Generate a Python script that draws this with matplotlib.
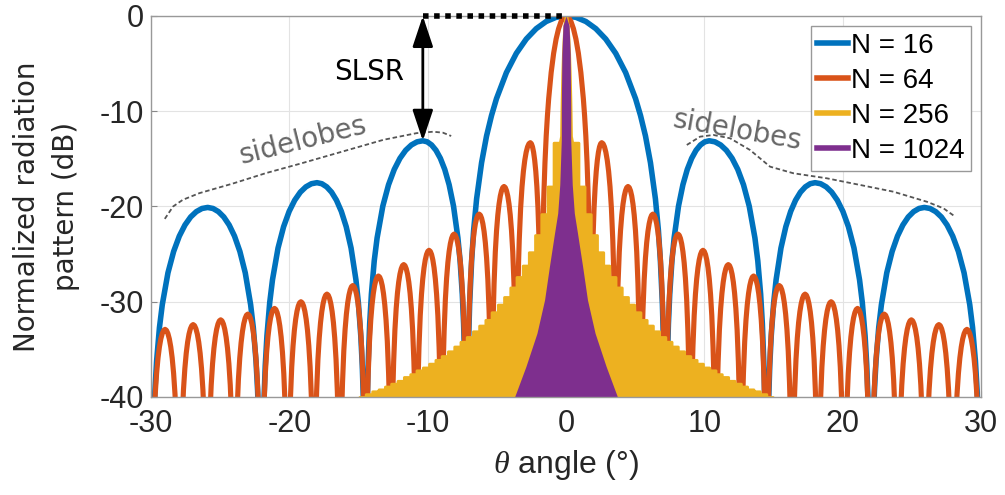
import numpy as np
import matplotlib.pyplot as plt
from matplotlib.lines import Line2D

series_labels = ['N = 16', 'N = 64', 'N = 256', 'N = 1024']
series_colors = ['#0072BD', '#D95319', '#EDB120', '#7E2F8E']
x_ticks = [-30, -20, -10, 0, 10, 20, 30]
y_ticks = [-40, -30, -20, -10, 0]

# N = 16: null angles, sidelobe peak angles and levels (dB)
nulls_16 = [7.18, 14.48, 22.02, 30.0]
peak_angles_16 = [10.35, 18.0, 25.9]
peaks_16 = [-13.1, -17.5, -20.1]

# N = 64
nulls_64 = [1.79, 3.58, 5.38, 7.18, 8.99, 10.81, 12.64, 14.48, 16.34, 18.21,
            20.11, 22.02, 23.97, 25.94, 27.95, 30.0]
peak_angles_64 = [2.58, 4.48, 6.28, 8.09, 9.90, 11.73, 13.56, 15.41, 17.28,
                  19.16, 21.07, 23.00, 24.96, 26.95, 28.98]
peaks_64 = [-13.3, -17.9, -20.8, -22.9, -24.6, -26.1, -27.3, -28.3, -29.2,
            -30.0, -30.7, -31.3, -31.9, -32.4, -32.9]

# N = 256: dense lobes drawn as steps (null angles, lobe levels)
nulls_256 = [0.45, 0.90, 1.34, 1.79, 2.24, 2.69, 3.13, 3.58, 4.03, 4.48, 4.93,
             5.38, 5.83, 6.28, 6.73, 7.18, 7.63, 8.08, 8.54, 8.99, 9.44, 9.90,
             10.35, 10.81, 11.26, 11.72, 12.18, 12.64, 13.09, 13.55, 14.01,
             14.48, 14.94, 15.40]
peaks_256 = [-13.3, -17.9, -20.8, -23.0, -24.8, -26.2, -27.4, -28.5, -29.5,
             -30.3, -31.1, -31.9, -32.5, -33.1, -33.7, -34.2, -34.7, -35.2,
             -35.7, -36.1, -36.5, -36.9, -37.2, -37.6, -37.9, -38.3, -38.6,
             -38.9, -39.2, -39.4, -39.7, -40.0, -40.2]

# N = 1024: lobes too dense to see, outline of the filled shape
edge_angles_1024 = [0.0, 0.22, 0.30, 0.34, 0.34, 0.45, 0.60, 0.83, 1.20, 1.55,
                    2.10, 2.90, 3.72]
edge_db_1024 = [0.0, -1.0, -4.0, -10.0, -13.0, -17.7, -20.7, -22.8, -26.3,
                -29.8, -33.3, -36.8, -40.0]

# lobe shapes
main_pos = [0, .1, .2, .3, .4, .5, .6, .7, .75, .8, .85, .9, .93, .95, .97,
            .98, .99, 1]
main_drop = [0, -0.14, -0.58, -1.33, -2.42, -3.92, -5.94, -8.68, -10.45, -12.6,
             -15.4, -19.2, -22.5, -25.7, -30.2, -33.8, -39.9, -60]
half_pos = [0, .02, .04, .07, .1, .15, .2, .3, .4, .5, .6, .7, .8, .9, 1]
half_drop = [-60, -30.1, -24.0, -19.2, -16.1, -12.6, -10.2, -6.86, -4.62,
             -3.01, -1.84, -1.0, -0.44, -0.11, 0]


def mirror(x, y):
    x = np.asarray(x, float)
    y = np.asarray(y, float)
    return np.r_[-x[::-1], x], np.r_[y[::-1], y]


def lobe_curve(nulls, peak_angles, peaks):
    x = [p * nulls[0] for p in main_pos]
    y = list(main_drop)
    for a, b, c, pk in zip(nulls[:-1], nulls[1:], peak_angles, peaks):
        x += [a + f * (c - a) for f in half_pos]
        y += [pk + d for d in half_drop]
        x += [b - f * (b - c) for f in half_pos[::-1]]
        y += [pk + d for d in half_drop[::-1]]
    return mirror(x, y)


def step_curve(nulls, peaks):
    x = [p * nulls[0] for p in main_pos[:10]]
    y = list(main_drop[:10])
    for a, b, pk in zip(nulls[:-1], nulls[1:], peaks):
        x += [a, b]
        y += [pk, pk]
    x.append(nulls[-1])
    y.append(-45)
    return mirror(x, y)


plt.rcParams['font.family'] = ['Liberation Sans', 'DejaVu Sans']
plt.rcParams['mathtext.fontset'] = 'custom'
plt.rcParams['mathtext.it'] = 'Liberation Serif:italic'

fig = plt.figure(figsize=(10.05, 4.95), dpi=100)
ax = fig.add_axes([0.1502, 0.198, 0.826, 0.7697])

x16, y16 = lobe_curve(nulls_16, peak_angles_16, peaks_16)
x64, y64 = lobe_curve(nulls_64, peak_angles_64, peaks_64)
x256, y256 = step_curve(nulls_256, peaks_256)
x1024, y1024 = mirror(edge_angles_1024, edge_db_1024)

ax.plot(x16, y16, color=series_colors[0], lw=4, zorder=3)
ax.plot(x64, y64, color=series_colors[1], lw=3.7, zorder=4)
ax.fill_between(x256, y256, -45, color=series_colors[2], lw=2,
                edgecolor=series_colors[2], zorder=5)
ax.fill_between(x1024, y1024, -45, color=series_colors[3], lw=0, zorder=6)

# SLSR marker
ax.plot([-peak_angles_16[0], 0], [0, 0], color='k', lw=4,
        ls=(0, (1, 1)), clip_on=False, zorder=11)
ax.annotate('', xy=(-peak_angles_16[0], peaks_16[0]), xytext=(-peak_angles_16[0], 0),
            arrowprops=dict(arrowstyle='<|-|>,head_length=0.9,head_width=0.3',
                            color='k', lw=2, mutation_scale=21,
                            shrinkA=0, shrinkB=0), zorder=8)
ax.text(-14.2, -5.9, 'SLSR', fontsize=20, family='DejaVu Sans',
        ha='center', va='center', zorder=8)

# sidelobe guides
guide_left_x = [-29.0, -28.4, -27.7, -26.5, -24.1, -21.7, -19.2, -15.6, -13.2,
                -10.8, -9.6, -8.9, -8.3]
guide_left_y = [-21.3, -20.0, -19.3, -18.6, -17.6, -16.5, -15.5, -14.0, -13.0,
                -12.3, -12.15, -12.25, -12.6]
guide_right_x = [8.73, 9.69, 10.65, 11.86, 13.30, 14.75, 16.43, 18.85, 21.26,
                 23.67, 26.08, 27.28, 28.13]
guide_right_y = [-13.54, -12.67, -12.49, -12.84, -14.07, -15.82, -16.51, -17.04,
                 -17.74, -18.45, -19.50, -20.19, -21.07]
for gx, gy in [(guide_left_x, guide_left_y), (guide_right_x, guide_right_y)]:
    ax.plot(gx, gy, color='#555555', lw=1.3, ls=(0, (2.5, 1.5)), zorder=7)
ax.text(-19.0, -13.1, 'sidelobes', fontsize=20, family='DejaVu Sans',
        color='#666666', rotation=14, ha='center', va='center', zorder=8)
ax.text(12.4, -12.0, 'sidelobes', fontsize=20, family='DejaVu Sans',
        color='#666666', rotation=-10, ha='center', va='center', zorder=8)

ax.set_xlim(-30, 30)
ax.set_ylim(-40, 0)
ax.set_xticks(x_ticks)
ax.set_yticks(y_ticks)
ax.set_xticklabels([str(t) for t in x_ticks])
ax.set_yticklabels([str(t) for t in y_ticks])
ax.tick_params(direction='in', length=4, color='#888888', labelsize=22,
               labelcolor='#262626')
ax.tick_params(axis='x', pad=9)
ax.tick_params(axis='y', pad=5)
ax.grid(True, color='#e3e3e3', lw=0.8, zorder=0)
ax.set_axisbelow(True)
for s in ax.spines.values():
    s.set_color('#999999')
    s.set_linewidth(1)
    s.set_zorder(9)

ax.set_xlabel(r'$\theta$ angle (°)', fontsize=23, color='#262626', labelpad=6)
ax.set_ylabel('Normalized radiation\npattern (dB)', fontsize=20,
              family='DejaVu Sans', color='#262626', linespacing=1.5)
ax.yaxis.set_label_coords(-0.085, 0.5)

handles = [Line2D([], [], color=c, lw=4) for c in series_colors]
leg = ax.legend(handles, series_labels, loc='upper right', fontsize=20,
                handlelength=1.1, handletextpad=0.1, labelspacing=0.33,
                borderpad=0.25, borderaxespad=0.35, fancybox=False,
                framealpha=1, edgecolor='#999999')
leg.get_frame().set_linewidth(1)
leg.set_zorder(10)

fig.savefig('out.png', dpi=100)
